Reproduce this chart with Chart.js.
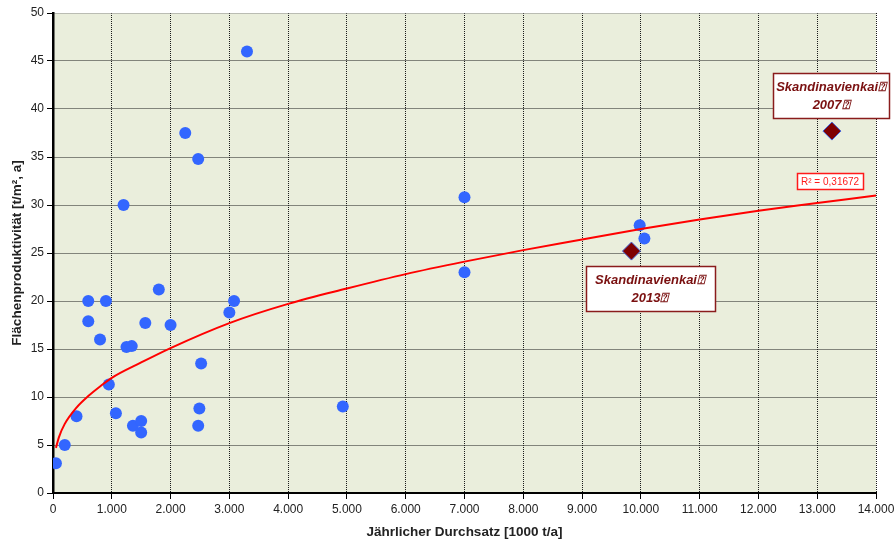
<!DOCTYPE html>
<html>
<head>
<meta charset="utf-8">
<script src="https://cdn.jsdelivr.net/npm/chart.js@4.4.1/dist/chart.umd.min.js"></script>
<style>
  html, body { margin: 0; padding: 0; background: #ffffff; }
  #wrap { width: 894px; height: 540px; position: relative; }
</style>
</head>
<body>
<div id="wrap"><canvas id="chart"></canvas></div>
<script>
// Ports: annual throughput [1000 t/a] vs. area productivity [t/m², a]
const portX = [50, 200, 400, 600, 600, 800, 900, 950, 1070, 1200, 1250, 1340, 1360, 1500, 1500, 1570, 1800, 2000,
    2250, 2470, 2470, 2490, 2520, 3000, 3080, 3300, 4930, 7000, 7000, 9980, 10060];
const portY = [3.1, 5.0, 8.0, 20.0, 17.9, 16.0, 20.0, 11.3, 8.3, 30.0, 15.2, 15.3, 7.0, 7.5, 6.3, 17.7, 21.2, 17.5,
    37.5, 34.8, 7.0, 8.8, 13.5, 18.8, 20.0, 46.0, 9.0, 30.8, 23.0, 27.9, 26.5];

// Skandinavienkai highlights
const highlightX = [9840, 13250];
const highlightY = [25.2, 37.7];
const highlightLabels = [['Skandinavienkai\u2370', '2013\u2370'], ['Skandinavienkai\u2370', '2007\u2370']];

// Power trendline
const trendX = [50, 100, 200, 400, 600, 800, 1000, 1500, 2000, 3000, 4000, 5000, 6000, 7000, 8000, 9000,
    10000, 11000, 12000, 13000, 14000];
const trendY = [4.7, 5.8, 7.2, 8.9, 10.1, 11.1, 12.0, 13.6, 15.1, 17.7, 19.7, 21.3, 22.8, 24.1, 25.3, 26.4,
    27.5, 28.5, 29.4, 30.2, 31.0];
const trendLabel = 'R\u00B2 = 0,31672';

const xTickLabels = ['0', '1.000', '2.000', '3.000', '4.000', '5.000', '6.000', '7.000', '8.000', '9.000',
    '10.000', '11.000', '12.000', '13.000', '14.000'];
const yTickLabels = ['0', '5', '10', '15', '20', '25', '30', '35', '40', '45', '50'];

const toPoints = (xs, ys) => xs.map((x, i) => ({ x: x, y: ys[i] }));

const font = "'Liberation Sans', Arial, sans-serif";
const darkRed = '#7a1010';

// plot area fill
const plotBackground = {
    id: 'plotBackground',
    beforeDraw(chart) {
        const { ctx, chartArea: a } = chart;
        ctx.save();
        ctx.fillStyle = '#eaeedc';
        ctx.fillRect(a.left, a.top, a.right - a.left, a.bottom - a.top);
        ctx.restore();
    }
};

// text boxes anchored at data coordinates
const boxes = [
    { x: 10156, y: 21.3, w: 129, h: 45, lines: highlightLabels[0], kind: 'label' },
    { x: 13236, y: 41.4, w: 116, h: 45, lines: highlightLabels[1], kind: 'label' },
    { x: 13219, y: 32.5, w: 66, h: 16, lines: [trendLabel], kind: 'r2' }
];
const textBoxes = {
    id: 'textBoxes',
    afterDatasetsDraw(chart) {
        const { ctx, scales } = chart;
        ctx.save();
        boxes.forEach(b => {
            const cx = scales.x.getPixelForValue(b.x);
            const cy = scales.y.getPixelForValue(b.y);
            const left = Math.round(cx - b.w / 2) + 0.5;
            const top = Math.round(cy - b.h / 2) + 0.5;
            ctx.fillStyle = '#ffffff';
            ctx.fillRect(left, top, b.w, b.h);
            ctx.textAlign = 'center';
            ctx.textBaseline = 'middle';
            if (b.kind === 'r2') {
                ctx.strokeStyle = '#ff1a1a';
                ctx.lineWidth = 1.5;
                ctx.strokeRect(left, top, b.w, b.h);
                ctx.fillStyle = '#ff1a1a';
                ctx.font = '10px ' + font;
                ctx.fillText(b.lines[0], cx, cy + 1);
            } else {
                ctx.strokeStyle = '#8a1c1c';
                ctx.lineWidth = 1.5;
                ctx.strokeRect(left, top, b.w, b.h);
                ctx.fillStyle = darkRed;
                ctx.font = 'italic bold 13px ' + font;
                ctx.fillText(b.lines[0], cx, cy - 8);
                ctx.fillText(b.lines[1], cx, cy + 10);
            }
        });
        ctx.restore();
    }
};

const gridColor = '#1a1a1a';

new Chart(document.getElementById('chart').getContext('2d'), {
    type: 'scatter',
    data: {
        datasets: [
            {
                label: 'Trend',
                data: toPoints(trendX, trendY),
                showLine: true,
                borderColor: '#ff0000',
                borderWidth: 2,
                pointRadius: 0,
                cubicInterpolationMode: 'monotone'
            },
            {
                label: 'Skandinavienkai',
                data: toPoints(highlightX, highlightY),
                pointStyle: 'rectRot',
                pointRadius: 9,
                backgroundColor: '#7f0000',
                borderColor: '#4466dd',
                borderWidth: 1
            },
            {
                label: 'Häfen',
                data: toPoints(portX, portY),
                pointRadius: 6,
                backgroundColor: '#3366ff',
                borderColor: '#3366ff',
                borderWidth: 0
            }
        ]
    },
    options: {
        responsive: true,
        maintainAspectRatio: false,
        animation: false,
        layout: { padding: { left: 9, right: 0, top: 13, bottom: 0 } },
        plugins: {
            legend: { display: false },
            tooltip: { enabled: false }
        },
        scales: {
            x: {
                type: 'linear',
                min: 0,
                max: 14000,
                // room for the last tick label
                afterFit: s => { s.height = 47; s.paddingRight = 18; s.paddingLeft = 0; },
                ticks: {
                    stepSize: 1000,
                    maxRotation: 0,
                    autoSkip: false,
                    padding: 3,
                    color: '#222222',
                    font: { family: font, size: 12 },
                    callback: v => xTickLabels[Math.round(v / 1000)]
                },
                grid: { color: gridColor, lineWidth: 1, tickLength: 6, tickColor: '#000000', drawOnChartArea: true },
                border: { display: true, color: '#000000', width: 2, dash: [1, 1] },
                title: {
                    display: true,
                    text: 'Jährlicher Durchsatz [1000 t/a]',
                    color: '#222222',
                    font: { family: font, size: 13.5, weight: 'bold' },
                    padding: { top: 3, bottom: 0 }
                }
            },
            y: {
                type: 'linear',
                min: 0,
                max: 50,
                afterFit: s => { s.width = 44; },
                ticks: {
                    stepSize: 5,
                    padding: 3,
                    color: '#222222',
                    font: { family: font, size: 12 },
                    callback: v => yTickLabels[Math.round(v / 5)]
                },
                grid: {
                    color: ctx => (ctx.tick && ctx.tick.value === 50 ? '#8a8a8a' : gridColor),
                    lineWidth: 1,
                    tickLength: 6,
                    tickColor: '#000000'
                },
                border: { display: true, color: '#000000', width: 2.5, dash: [1, 1] },
                title: {
                    display: true,
                    text: 'Flächenproduktivität [t/m², a]',
                    color: '#222222',
                    font: { family: font, size: 13.5, weight: 'bold' },
                    padding: { top: 0, bottom: 0 }
                }
            }
        }
    },
    plugins: [plotBackground, textBoxes]
});
</script>
</body>
</html>
